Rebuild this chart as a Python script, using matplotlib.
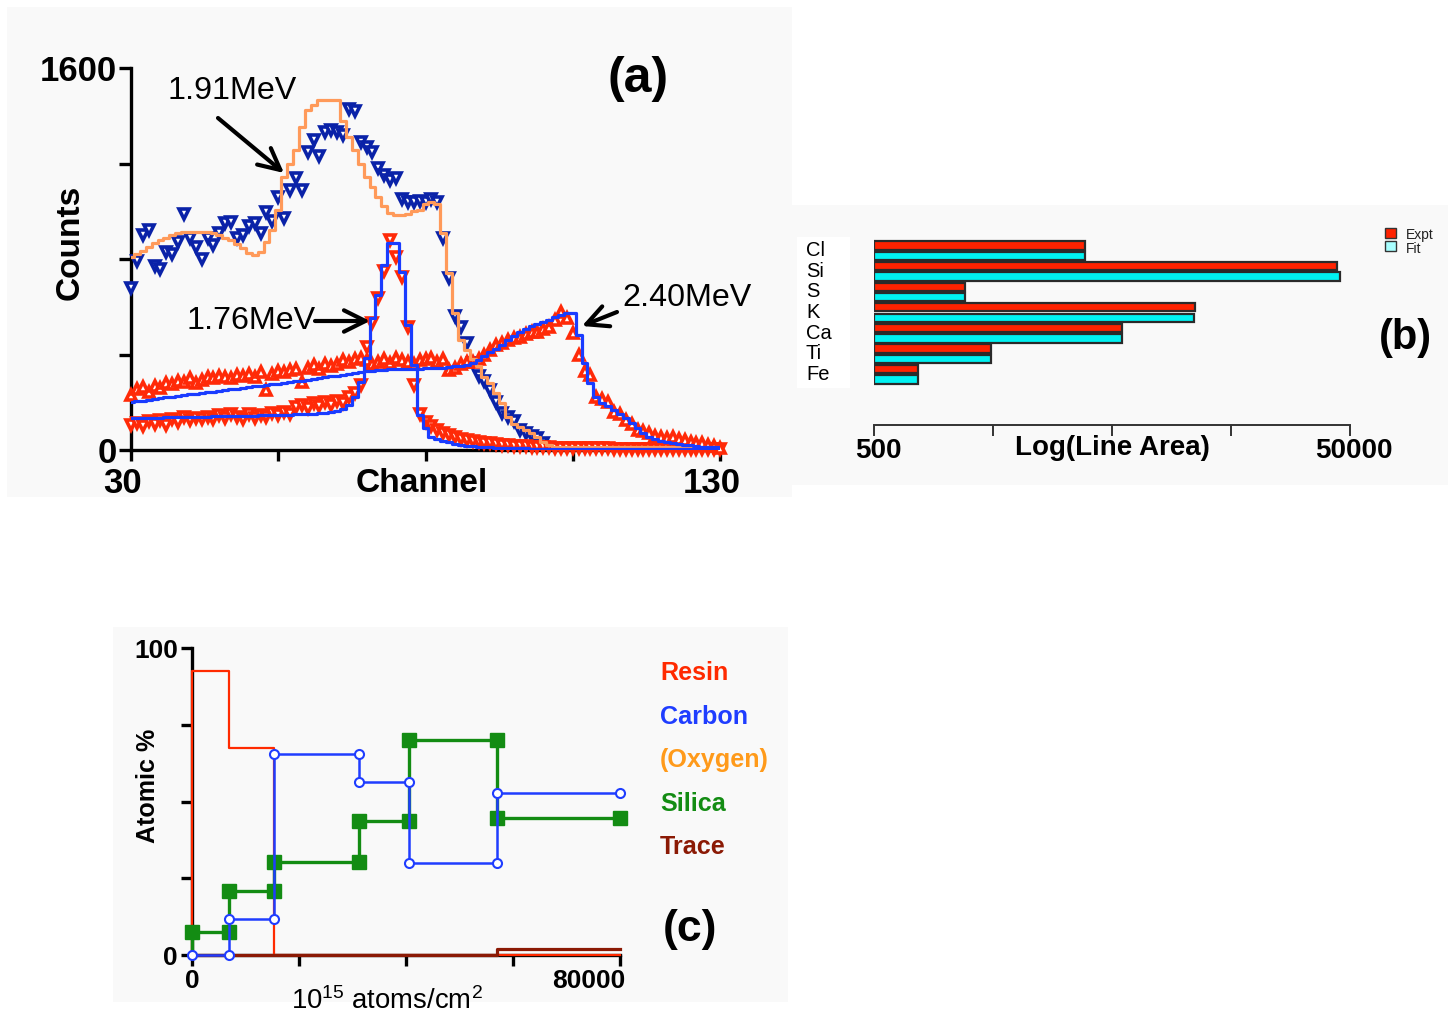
import matplotlib
matplotlib.use('Agg')
import matplotlib.pyplot as plt
import numpy as np
from matplotlib import font_manager as fm
from matplotlib.patches import Rectangle
from matplotlib.transforms import blended_transform_factory, ScaledTranslation

# ---------------- data: panel (a) ----------------
channels = np.arange(30, 131)
channels_191 = np.arange(30, 101)

data_191 = [680, 790, 900, 920, 770, 760, 830, 820, 870, 990,
            890, 850, 800, 890, 860, 910, 950, 955, 890, 900,
            940, 950, 910, 995, 960, 1060, 970, 1090, 1140, 1090,
            1250, 1300, 1230, 1330, 1340, 1330, 1320, 1430, 1420, 1290,
            1270, 1250, 1180, 1150, 1130, 1140, 1050, 1040, 1040, 1045,
            1040, 1050, 1040, 890, 720, 560, 515, 450, 365, 310,
            290, 250, 200, 155, 140, 120, 85, 70, 60, 50, 30]

fit_191 = [808, 820, 835, 850, 865, 878, 890, 900, 908, 912,
           914, 914, 913, 911, 907, 900, 890, 878, 862, 845,
           825, 818, 830, 870, 921, 1005, 1143, 1200, 1256, 1353,
           1424, 1445, 1466, 1466, 1466, 1466, 1380, 1311, 1256, 1200,
           1143, 1100, 1059, 1020, 992, 986, 984, 990, 1000, 1005,
           1030, 1038, 1030, 909, 741, 574, 461, 419, 380, 350,
           306, 281, 240, 197, 140, 110, 95, 85, 71, 55,
           35, 20, 14, 12, 12, 12, 12, 12, 12, 12,
           12, 12, 12, 12, 12, 12, 12, 12, 12, 12,
           12, 12, 12, 12, 12, 12, 12, 12, 12, 12, 12]

data_176 = [105, 115, 100, 120, 110, 125, 105, 130, 118, 138,
            125, 135, 128, 140, 128, 145, 135, 150, 140, 130,
            150, 135, 148, 140, 155, 145, 160, 150, 180, 188,
            175, 195, 185, 201, 190, 205, 195, 220, 240, 272,
            430, 532, 636, 750, 879, 808, 724, 515, 272, 150,
            117, 100, 82, 72, 62, 55, 48, 42, 38, 35,
            30, 28, 25, 22, 20, 18, 16, 15, 14, 13,
            12, 11, 10, 10, 9, 9, 8, 8, 8, 7,
            7, 7, 6, 6, 6, 6, 5, 5, 5, 5,
            5, 5, 4, 4, 4, 4, 4, 3, 3, 3, 3]

fit_176 = [134, 134, 135, 135, 136, 136, 137, 137, 138, 138,
           139, 139, 140, 140, 141, 141, 142, 142, 143, 143,
           144, 144, 145, 145, 146, 146, 147, 148, 149, 150,
           151, 152, 153, 155, 158, 165, 170, 190, 222, 285,
           385, 553, 649, 775, 867, 867, 745, 523, 356, 147,
           92, 54, 45, 38, 32, 26, 21, 18, 15, 13,
           12, 11, 10, 9, 8, 8, 7, 7, 6, 6,
           6, 5, 5, 5, 5, 5, 5, 5, 4, 4,
           4, 4, 4, 4, 4, 4, 4, 4, 4, 4,
           4, 4, 4, 4, 3, 3, 3, 3, 3, 3, 3]

data_240 = [230, 255, 265, 245, 270, 260, 280, 275, 290, 285,
            300, 280, 295, 305, 300, 310, 305, 300, 315, 310,
            320, 305, 325, 250, 320, 330, 325, 335, 340, 285,
            345, 355, 340, 360, 350, 360, 375, 370, 380, 385,
            375, 360, 370, 380, 365, 385, 375, 370, 360, 375,
            380, 385, 370, 380, 335, 345, 360, 368, 370, 380,
            400, 420, 440, 448, 460, 470, 475, 485, 494, 494,
            505, 515, 545, 578, 553, 490, 400, 330, 314, 222,
            215, 200, 160, 150, 126, 110, 84, 80, 70, 60,
            54, 50, 54, 45, 42, 35, 30, 29, 20, 15, 10]

fit_240 = [201, 204, 207, 211, 214, 217, 220, 223, 226, 230,
           233, 236, 239, 242, 245, 248, 251, 254, 257, 260,
           263, 266, 269, 272, 275, 278, 281, 284, 287, 290,
           293, 296, 300, 304, 308, 312, 316, 320, 323, 327,
           330, 332, 335, 336, 338, 339, 340, 340, 341, 341,
           342, 342, 343, 345, 347, 350, 352, 356, 365, 377,
           395, 410, 425, 440, 461, 478, 494, 505, 520, 528,
           536, 545, 555, 565, 574, 574, 482, 364, 281, 222,
           197, 185, 168, 152, 134, 115, 92, 70, 54, 45,
           38, 33, 28, 25, 22, 20, 15, 14, 13, 12, 12]

a_yticks = [0, 400, 800, 1200, 1600]
a_yticklabels = ['0', '', '', '', '1600']
a_xticks = [30, 55, 80, 105, 130]
a_xticklabels = ['30', '', '', '', '130']

# ---------------- data: panel (b) ----------------
elements = ['Cl', 'Si', 'S', 'K', 'Ca', 'Ti', 'Fe']
line_area_expt = [3850, 43900, 1206, 11160, 5510, 1552, 766]
line_area_fit = [3850, 45400, 1206, 11070, 5510, 1552, 766]
b_xticks = [500, 1581, 5000, 15811, 50000]
b_xticklabels = ['500', '', '', '', '50000']

# ---------------- data: panel (c) ----------------
depth_bounds = [0, 6840, 15350, 31150, 40570, 56950, 80000]
resin = [92.4, 67.4, 0, 0, 0, 0]
carbon = [0, 11.7, 65.4, 56.5, 29.9, 52.9]
silica = [7.6, 20.7, 30.2, 43.5, 70.1, 44.6]
trace = [0, 0, 0, 0, 0, 2.0]
c_xticks = [0, 20000, 40000, 60000, 80000]
c_xticklabels = ['0', '', '', '', '80000']
c_yticks = [0, 25, 50, 75, 100]
c_yticklabels = ['0', '', '', '', '100']
legend_names = ['Resin', 'Carbon', '(Oxygen)', 'Silica', 'Trace']

# ---------------- style ----------------
NAVY = '#0a22a8'
RED = '#ff2a08'
ORANGE_FIT = '#ff9a5a'
BLUE_FIT = '#1a3cff'
C_RED = '#ff2a00'
C_BLUE = '#1f3dff'
C_ORANGE = '#ff9a1a'
C_GREEN = '#138c13'
C_BROWN = '#8b1a05'
BG = '#f9f9f9'

names = {f.name for f in fm.fontManager.ttflist}
NARROW = 'Liberation Sans Narrow' in names
BF = 'Liberation Sans'
CF = 'Liberation Sans Narrow' if NARROW else 'Liberation Sans'
cs = 1.0 if NARROW else 0.86

plt.rcParams['mathtext.fontset'] = 'custom'
plt.rcParams['mathtext.rm'] = 'Liberation Sans'
plt.rcParams['mathtext.it'] = 'Liberation Sans'
plt.rcParams['mathtext.bf'] = 'Liberation Sans:bold'

W, H = 1455, 1021
fig = plt.figure(figsize=(14.55, 10.21), dpi=100)
fig.patch.set_facecolor('white')


def fx(px):
    return px / W


def fy(py):
    return 1 - py / H


def rect(x0, y0, x1, y1, color, z=-2, ec='none', lw=0):
    fig.patches.append(Rectangle((fx(x0), fy(y1)), fx(x1) - fx(x0), fy(y0) - fy(y1),
                                 transform=fig.transFigure, facecolor=color,
                                 edgecolor=ec, lw=lw, zorder=z))


def shift_labels(labels, dx_px):
    off = ScaledTranslation(dx_px / 100.0, 0, fig.dpi_scale_trans)
    for lbl in labels:
        lbl.set_transform(lbl.get_transform() + off)


rect(7, 7, 792, 497, BG)
rect(792, 205, 1448, 485, BG)
rect(113, 627, 788, 1002, BG)
rect(797, 237, 850, 388, 'white', z=-1)

# ================= panel (a) =================
axA = fig.add_axes([fx(131), fy(450), fx(720) - fx(131), fy(68) - fy(450)])
axA.set_facecolor('none')
axA.set_xlim(30, 130)
axA.set_ylim(0, 1600)
for s in ['top', 'right']:
    axA.spines[s].set_visible(False)
for s in ['left', 'bottom']:
    axA.spines[s].set_linewidth(2.4)
axA.tick_params(axis='y', direction='out', length=9, width=2.4, pad=1)
axA.tick_params(axis='x', direction='out', length=8, width=2.4, pad=4)
axA.set_yticks(a_yticks)
axA.set_yticklabels(a_yticklabels, fontsize=25, fontweight='bold', family=BF)
axA.set_xticks(a_xticks)
axA.set_xticklabels(a_xticklabels, fontsize=25, fontweight='bold', family=BF)
shift_labels(axA.get_xticklabels(), -8)

mk = dict(linestyle='none', ms=7.5, mfc='white', mew=2.6, clip_on=False)
axA.plot(channels_191, data_191, marker='v', mec=NAVY, zorder=3, **mk)
axA.plot(channels, data_176, marker='v', mec=RED, zorder=3, **mk)
axA.plot(channels, data_240, marker='^', mec=RED, zorder=3, **mk)
axA.plot(channels, fit_191, drawstyle='steps-mid', color=ORANGE_FIT, lw=2.3, zorder=4)
axA.plot(channels, fit_176, drawstyle='steps-mid', color=BLUE_FIT, lw=2.3, zorder=4)
axA.plot(channels, fit_240, drawstyle='steps-mid', color=BLUE_FIT, lw=2.3, zorder=4)

arrow_kw = dict(arrowstyle='->,head_length=0.7,head_width=0.35', lw=3.0, color='black',
                mutation_scale=22, shrinkA=0, shrinkB=0)
for (t0, t1) in [((218, 118), (284, 173)), ((315, 321), (370, 321)), ((617, 312), (582, 326))]:
    axA.annotate('', xy=(fx(t1[0]), fy(t1[1])), xytext=(fx(t0[0]), fy(t0[1])),
                 xycoords='figure fraction', textcoords='figure fraction',
                 arrowprops=arrow_kw, zorder=6)

fig.text(fx(167), fy(91), '1.91MeV', fontsize=27 * cs, family=CF, va='center', ha='left')
fig.text(fx(187), fy(321), '1.76MeV', fontsize=27 * cs, family=CF, va='center', ha='left')
fig.text(fx(622), fy(298), '2.40MeV', fontsize=27 * cs, family=CF, va='center', ha='left')
fig.text(fx(638), fy(79), '(a)', fontsize=36, fontweight='bold', family=BF, va='center', ha='center')
fig.text(fx(422), fy(483), 'Channel', fontsize=28 * cs, fontweight='bold', family=CF, va='center', ha='center')
fig.text(fx(70), fy(242), 'Counts', fontsize=28 * cs, fontweight='bold', family=CF, va='center',
         ha='center', rotation=90)

# ================= panel (b) =================
axB = fig.add_axes([fx(874), fy(425), fx(1350) - fx(874), fy(232) - fy(425)])
axB.set_facecolor('none')
axB.set_xscale('log')
axB.set_xlim(500, 50000)
axB.set_ylim(8.46, -0.91)
pos = np.arange(len(elements))
expt = np.array(line_area_expt, dtype=float)
fitv = np.array(line_area_fit, dtype=float)
axB.barh(pos - 0.255, expt - 500, left=500, height=0.40, color='#ff2200', edgecolor='#2a2a2a', lw=1.6,
         label='Expt')
axB.barh(pos + 0.255, fitv - 500, left=500, height=0.40, color='#00f2f2', edgecolor='#2a2a2a', lw=1.6,
         label='Fit')
for s in ['top', 'right', 'left']:
    axB.spines[s].set_visible(False)
axB.spines['bottom'].set_linewidth(1.4)
axB.spines['bottom'].set_color('#333333')
axB.set_yticks([])
axB.xaxis.set_minor_locator(matplotlib.ticker.NullLocator())
axB.set_xticks(b_xticks)
axB.set_xticklabels(b_xticklabels, fontsize=20, fontweight='bold', family=BF)
axB.tick_params(axis='x', direction='out', length=8, width=1.4, color='#333333', pad=1)
shift_labels(axB.get_xticklabels(), 4)
trB = blended_transform_factory(axB.transAxes, axB.transData)
for i, name in enumerate(elements):
    axB.text(-0.143, i, name, transform=trB, fontsize=14.5, family=CF, va='center', ha='left')
fig.text(fx(1112), fy(448), 'Log(Line Area)', fontsize=20, fontweight='bold', family=BF,
         va='center', ha='center')
fig.text(fx(1405), fy(338), '(b)', fontsize=30, fontweight='bold', family=BF, va='center', ha='center')
rect(1385, 228, 1396, 238, '#ff2200', z=2, ec='#333333', lw=1)
rect(1385, 241, 1396, 251, '#a8ffff', z=2, ec='#333333', lw=1)
fig.text(fx(1406), fy(235), 'Expt', fontsize=10, family=CF, color='#222222', va='center', ha='left')
fig.text(fx(1406), fy(249), 'Fit', fontsize=10, family=CF, color='#222222', va='center', ha='left')

# ================= panel (c) =================
axC = fig.add_axes([fx(192), fy(955), fx(620) - fx(192), fy(648) - fy(955)])
axC.set_facecolor('none')
axC.set_xlim(0, 80000)
axC.set_ylim(0, 100)
for s in ['top', 'right']:
    axC.spines[s].set_visible(False)
for s in ['left', 'bottom']:
    axC.spines[s].set_linewidth(2.4)
axC.tick_params(axis='both', direction='out', length=8, width=2.4, pad=2)
axC.set_xticks(c_xticks)
axC.set_xticklabels(c_xticklabels, fontsize=19, fontweight='bold', family=BF)
axC.set_yticks(c_yticks)
axC.set_yticklabels(c_yticklabels, fontsize=19, fontweight='bold', family=BF)
axC.get_xticklabels()[-1].set_horizontalalignment('right')
shift_labels([axC.get_xticklabels()[-1]], 5)


def steps(values, start_zero=False):
    xs = np.repeat(depth_bounds, 2)[1:-1].astype(float)
    ys = np.repeat(values, 2).astype(float)
    if start_zero:
        xs = np.concatenate([[depth_bounds[0]], xs])
        ys = np.concatenate([[0.0], ys])
    return xs, ys


xr, yr = steps(resin, True)
axC.plot(xr, yr, color=C_RED, lw=1.6, zorder=3, clip_on=False)
xt, yt = steps(trace)
axC.plot(xt, yt, color=C_BROWN, lw=2.3, zorder=4, clip_on=False)
xc, yc = steps(carbon)
axC.plot(xc, yc, color=C_BLUE, lw=1.8, marker='o', ms=6.5, mfc='white', mec=C_BLUE, mew=1.5,
         zorder=5, clip_on=False)
xs_, ys_ = steps(silica, True)
axC.plot(xs_, ys_, color=C_GREEN, lw=2.4, zorder=4.5, clip_on=False)
axC.plot(xs_[1:], ys_[1:], linestyle='none', marker='s', ms=10, color=C_GREEN, zorder=4.6, clip_on=False)

leg_colors = [C_RED, C_BLUE, C_ORANGE, C_GREEN, C_BROWN]
for k, (nm, col) in enumerate(zip(legend_names, leg_colors)):
    fig.text(fx(660), fy(673 + 43.5 * k), nm, color=col, fontsize=21 * cs, fontweight='bold', family=CF,
             va='center', ha='left')
fig.text(fx(690), fy(929), '(c)', fontsize=32, fontweight='bold', family=BF, va='center', ha='center')
fig.text(fx(148), fy(786), 'Atomic %', fontsize=21 * cs, fontweight='bold', family=CF, va='center',
         ha='center', rotation=90)
fig.text(fx(387), fy(1001), r'10$^{15}$ atoms/cm$^{2}$', fontsize=23 * cs, family=CF, va='center',
         ha='center')

fig.savefig('out.png', dpi=100, facecolor='white')
